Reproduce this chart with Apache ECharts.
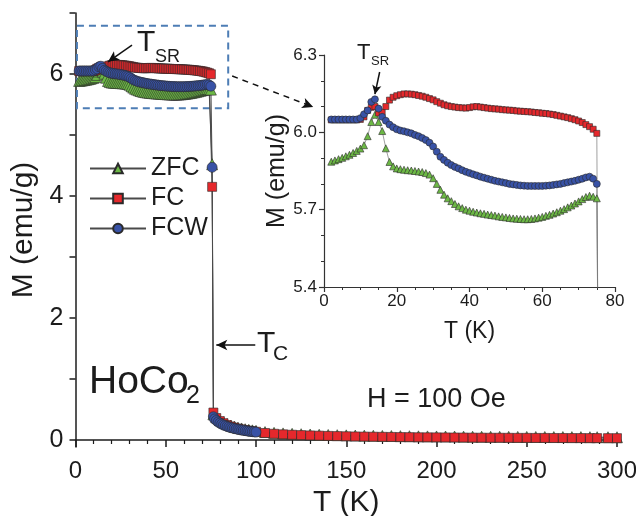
<!DOCTYPE html>
<html>
<head>
<meta charset="utf-8">
<title>HoCo2 magnetization</title>
<script src="https://cdn.jsdelivr.net/npm/echarts@6/dist/echarts.min.js"></script>
<style>
  html, body { margin: 0; padding: 0; background: #fff; }
  #chart { width: 636px; height: 516px; }
</style>
</head>
<body>
<div id="chart"></div>
<script>
// Temperatures (K) of the low-temperature sweep, 2 K to 75 K
const tLow = [
  2, 3, 4, 5, 6, 7, 8, 9, 10, 11,
  12, 13, 14, 15, 16, 17, 18, 19, 20, 21,
  22, 23, 24, 25, 26, 27, 28, 29, 30, 31,
  32, 33, 34, 35, 36, 37, 38, 39, 40, 41,
  42, 43, 44, 45, 46, 47, 48, 49, 50, 51,
  52, 53, 54, 55, 56, 57, 58, 59, 60, 61,
  62, 63, 64, 65, 66, 67, 68, 69, 70, 71,
  72, 73, 74, 75
];
// Magnetization M (emu/g) below Tc
const zfcLow = [
  5.886, 5.891, 5.896, 5.901, 5.907, 5.913, 5.920, 5.928, 5.937, 5.950,
  5.985, 6.040, 6.068, 6.040, 6.005, 5.938, 5.885, 5.868, 5.860, 5.857,
  5.855, 5.853, 5.852, 5.850, 5.848, 5.846, 5.842, 5.836, 5.822, 5.800,
  5.777, 5.758, 5.744, 5.733, 5.722, 5.713, 5.706, 5.700, 5.696, 5.692,
  5.689, 5.686, 5.684, 5.681, 5.679, 5.677, 5.674, 5.672, 5.670, 5.668,
  5.666, 5.665, 5.664, 5.663, 5.663, 5.664, 5.666, 5.669, 5.672, 5.676,
  5.680, 5.685, 5.690, 5.696, 5.702, 5.709, 5.716, 5.724, 5.732, 5.741,
  5.749, 5.754, 5.750, 5.744
];
const fcLow = [
  6.048, 6.048, 6.048, 6.048, 6.048, 6.048, 6.048, 6.048, 6.050, 6.060,
  6.085, 6.097, 6.100, 6.075, 6.078, 6.100, 6.125, 6.136, 6.142, 6.146,
  6.149, 6.149, 6.148, 6.146, 6.143, 6.140, 6.136, 6.131, 6.126, 6.119,
  6.113, 6.107, 6.103, 6.100, 6.098, 6.096, 6.095, 6.094, 6.096, 6.099,
  6.100, 6.098, 6.096, 6.094, 6.092, 6.091, 6.090, 6.088, 6.087, 6.086,
  6.085, 6.083, 6.082, 6.081, 6.080, 6.079, 6.077, 6.076, 6.074, 6.073,
  6.071, 6.069, 6.066, 6.063, 6.060, 6.057, 6.053, 6.049, 6.044, 6.038,
  6.030, 6.022, 6.012, 5.996
];
const fcwLow = [
  6.050, 6.050, 6.050, 6.050, 6.050, 6.050, 6.050, 6.050, 6.055, 6.070,
  6.085, 6.118, 6.128, 6.092, 6.060, 6.045, 6.030, 6.020, 6.012, 6.007,
  6.004, 6.000, 5.996, 5.990, 5.985, 5.978, 5.970, 5.960, 5.945, 5.925,
  5.905, 5.893, 5.882, 5.873, 5.866, 5.860, 5.853, 5.847, 5.842, 5.837,
  5.833, 5.828, 5.824, 5.820, 5.816, 5.812, 5.809, 5.806, 5.803, 5.800,
  5.798, 5.796, 5.794, 5.793, 5.792, 5.792, 5.792, 5.792, 5.792, 5.793,
  5.794, 5.796, 5.798, 5.800, 5.803, 5.806, 5.809, 5.812, 5.816, 5.820,
  5.825, 5.828, 5.820, 5.800
];

// Points across the Curie transition
const tDrop = [75.7, 76.4];
const zfcDrop = [4.52, 0.42];
const fcDrop = [4.15, 0.45];
const fcwDrop = [4.47, 0.38];

// FCW warming run above Tc (ends at 100 K)
const tFcwTail = [
  77, 78, 79, 80, 81, 82, 83, 84, 85, 86, 87, 88,
  89, 90, 91, 92, 93, 94, 95, 96, 97, 98, 99, 100
];
const fcwTail = [
  0.345, 0.318, 0.295, 0.276, 0.260, 0.246, 0.234, 0.223, 0.213, 0.204, 0.196, 0.189,
  0.182, 0.176, 0.170, 0.164, 0.159, 0.154, 0.149, 0.145, 0.141, 0.137, 0.133, 0.129
];

// ZFC / FC runs above Tc, up to 300 K
const tTail = [
  78, 80, 82, 84, 86, 88, 90, 92, 94, 96, 98, 100,
  105, 110, 115, 120, 125, 130, 135, 140, 145, 150,
  155, 160, 165, 170, 175, 180, 185, 190, 195, 200,
  205, 210, 215, 220, 225, 230, 235, 240, 245, 250,
  255, 260, 265, 270, 275, 280, 285, 289, 295, 300
];
const fcTail = [
  0.360, 0.310, 0.275, 0.245, 0.222, 0.203, 0.187, 0.174, 0.162, 0.152, 0.143, 0.135,
  0.115, 0.102, 0.093, 0.086, 0.080, 0.075, 0.071, 0.067, 0.064, 0.061,
  0.058, 0.056, 0.054, 0.052, 0.050, 0.048, 0.047, 0.045, 0.044, 0.043,
  0.042, 0.041, 0.040, 0.039, 0.038, 0.037, 0.037, 0.036, 0.035, 0.035,
  0.034, 0.034, 0.033, 0.033, 0.032, 0.032, 0.031, 0.031, 0.030, 0.030
];
const zfcTail = [
  0.375, 0.325, 0.290, 0.260, 0.237, 0.218, 0.202, 0.189, 0.177, 0.167, 0.158, 0.150,
  0.130, 0.117, 0.108, 0.101, 0.095, 0.090, 0.086, 0.082, 0.079, 0.076,
  0.073, 0.071, 0.069, 0.067, 0.065, 0.063, 0.062, 0.060, 0.059, 0.058,
  0.057, 0.056, 0.055, 0.054, 0.053, 0.052, 0.052, 0.051, 0.050, 0.050,
  0.049, 0.049, 0.048, 0.048, 0.047, 0.047, 0.046, 0.046, 0.045, 0.045
];

// Axis tick labels
const mainXTicks = [0, 50, 100, 150, 200, 250, 300];
const mainYTickMarks = [0, 1, 2, 3, 4, 5, 6, 7];
const mainYLabels = [0, 2, 4, 6];
const insetYLabels = [5.4, 5.7, 6.0, 6.3];

const FONT = "'Liberation Sans', Arial, Helvetica, sans-serif";
const INK = '#1c1c1c';
const COLORS = { ZFC: '#6cb845', FC: '#e5282c', FCW: '#3852a6' };
const SYMBOLS = { ZFC: 'triangle', FC: 'rect', FCW: 'circle' };

const zip = (xs, ys) => xs.map((x, i) => [x, ys[i]]);
const zfcAll = zip(tLow, zfcLow).concat(zip(tDrop, zfcDrop), zip(tTail, zfcTail));
const fcAll = zip(tLow, fcLow).concat(zip(tDrop, fcDrop), zip(tTail, fcTail));
const fcwAll = zip(tLow, fcwLow).concat(zip(tDrop, fcwDrop), zip(tFcwTail, fcwTail));

function curve(name, data, grid, size, lineColor, lineWidth, extra) {
  return Object.assign({
    type: 'line',
    name: name,
    xAxisIndex: grid,
    yAxisIndex: grid,
    data: data,
    clip: true,
    symbol: SYMBOLS[name],
    symbolSize: size,
    showAllSymbol: true,
    silent: true,
    animation: false,
    lineStyle: { color: lineColor, width: lineWidth },
    itemStyle: { color: COLORS[name], borderColor: '#2a2a2a', borderWidth: 0.6 },
    emphasis: { disabled: true }
  }, extra || {});
}

const arrowLine = (from, to, dashed) => [
  { coord: from, lineStyle: { color: '#111', width: 1.5, type: dashed ? [6, 5] : 'solid' } },
  { coord: to }
];

const mainMarks = {
  markArea: {
    silent: true,
    itemStyle: { color: 'rgba(0,0,0,0)', borderColor: '#4d7db5', borderWidth: 2, borderType: [7, 5] },
    label: { show: false },
    data: [[{ coord: [0.8, 6.79] }, { coord: [84.6, 5.44] }]]
  },
  markLine: {
    silent: true,
    symbol: ['none', 'arrow'],
    symbolSize: [8, 11],
    label: { show: false },
    animation: false,
    data: [
      arrowLine([31.3, 6.475], [18.0, 6.2], false),
      arrowLine([99.6, 1.557], [78.0, 1.557], false),
      arrowLine([86.8, 5.967], [131.7, 5.459], true)
    ]
  }
};

const insetMarks = {
  markLine: {
    silent: true,
    symbol: ['none', 'arrow'],
    symbolSize: [7, 9],
    label: { show: false },
    animation: false,
    data: [arrowLine([15.3, 6.234], [14.0, 6.148], false)]
  }
};

const axisLineMain = { lineStyle: { color: INK, width: 1.5 } };
const axisLineInset = { lineStyle: { color: '#333', width: 1.2 } };

const option = {
  animation: false,
  backgroundColor: '#ffffff',
  textStyle: { fontFamily: FONT, color: INK },
  grid: [
    { left: 75.5, right: 19, top: 13, bottom: 69, containLabel: false, outerBoundsMode: 'none' },
    { left: 324, right: 21, top: 55, bottom: 229, containLabel: false, outerBoundsMode: 'none' }
  ],
  legend: {
    data: ['ZFC', 'FC', 'FCW'],
    orient: 'vertical',
    left: 84,
    top: 150,
    itemWidth: 56,
    itemHeight: 12,
    itemGap: 3,
    selectedMode: false,
    textStyle: { fontFamily: FONT, fontSize: 25, color: INK, lineHeight: 27 }
  },
  xAxis: [
    {
      type: 'value', gridIndex: 0, min: 0, max: 300, interval: 50,
      axisLine: axisLineMain,
      axisTick: { length: 7, lineStyle: { color: INK, width: 1.5 } },
      minorTick: { show: true, splitNumber: 5, length: 4, lineStyle: { color: INK, width: 1.2 } },
      splitLine: { show: false },
      axisLabel: { fontSize: 24, color: INK, margin: 12, fontFamily: FONT,
        formatter: v => (mainXTicks.indexOf(v) >= 0 ? String(v) : '') },
      name: 'T (K)', nameLocation: 'middle', nameGap: 37,
      nameTextStyle: { fontSize: 30, color: INK, fontFamily: FONT }
    },
    {
      type: 'value', gridIndex: 1, min: 0, max: 80, interval: 20,
      axisLine: axisLineInset,
      axisTick: { length: 5, lineStyle: { color: '#333', width: 1.2 } },
      minorTick: { show: true, splitNumber: 4, length: 3, lineStyle: { color: '#333', width: 1 } },
      splitLine: { show: false },
      axisLabel: { fontSize: 17, color: INK, margin: 6, fontFamily: FONT },
      name: 'T (K)', nameLocation: 'middle', nameGap: 33,
      nameTextStyle: { fontSize: 23, color: INK, fontFamily: FONT }
    }
  ],
  yAxis: [
    {
      type: 'value', gridIndex: 0, min: -0.115, max: 7,
      axisLine: axisLineMain,
      axisTick: { length: 6, customValues: mainYTickMarks, lineStyle: { color: INK, width: 1.5 } },
      splitLine: { show: false },
      axisLabel: { fontSize: 25, color: INK, margin: 12, fontFamily: FONT, customValues: mainYLabels },
      name: 'M (emu/g)', nameLocation: 'middle', nameGap: 31,
      nameTextStyle: { fontSize: 30, color: INK, fontFamily: FONT }
    },
    {
      type: 'value', gridIndex: 1, min: 5.4, max: 6.3, interval: 0.3,
      axisLine: axisLineInset,
      axisTick: { length: 5, lineStyle: { color: '#333', width: 1.2 } },
      minorTick: { show: true, splitNumber: 3, length: 3, lineStyle: { color: '#333', width: 1 } },
      splitLine: { show: false },
      axisLabel: { fontSize: 17, color: INK, margin: 7, fontFamily: FONT, customValues: insetYLabels,
        formatter: v => Number(v).toFixed(1) },
      name: 'M (emu/g)', nameLocation: 'middle', nameGap: 34,
      nameTextStyle: { fontSize: 25, color: INK, fontFamily: FONT }
    }
  ],
  series: [
    curve('ZFC', zfcAll, 0, 11, '#4a4a4a', 1),
    curve('FC', fcAll, 0, 9, '#4a4a4a', 1),
    curve('FCW', fcwAll, 0, 10, '#4a4a4a', 1, mainMarks),
    curve('ZFC', zfcAll, 1, 7, '#777', 0.7),
    curve('FC', fcAll, 1, 6, '#777', 0.7),
    curve('FCW', fcwAll, 1, 7, '#777', 0.7, insetMarks)
  ],
  graphic: [
    // T_SR near the spin-reorientation peak (main panel)
    { type: 'text', x: 137, y: 43, style: { text: 'T', fontFamily: FONT, fontSize: 30, fill: INK, verticalAlign: 'middle' } },
    { type: 'text', x: 155, y: 57, style: { text: 'SR', fontFamily: FONT, fontSize: 18, fill: INK, verticalAlign: 'middle' } },
    // T_SR in the inset
    { type: 'text', x: 357, y: 53, style: { text: 'T', fontFamily: FONT, fontSize: 22, fill: INK, verticalAlign: 'middle' } },
    { type: 'text', x: 371, y: 61, style: { text: 'SR', fontFamily: FONT, fontSize: 13, fill: INK, verticalAlign: 'middle' } },
    // T_C
    { type: 'text', x: 257, y: 344, style: { text: 'T', fontFamily: FONT, fontSize: 30, fill: INK, verticalAlign: 'middle' } },
    { type: 'text', x: 273, y: 354, style: { text: 'C', fontFamily: FONT, fontSize: 21, fill: INK, verticalAlign: 'middle' } },
    // Compound name
    { type: 'text', x: 89, y: 382.5, style: { text: 'HoCo', fontFamily: FONT, fontSize: 39, fill: INK, verticalAlign: 'middle' } },
    { type: 'text', x: 186, y: 396, style: { text: '2', fontFamily: FONT, fontSize: 25, fill: INK, verticalAlign: 'middle' } },
    // Applied field
    { type: 'text', x: 367, y: 399.5, style: { text: 'H = 100 Oe', fontFamily: FONT, fontSize: 27, fill: INK, verticalAlign: 'middle' } }
  ]
};

const chart = echarts.init(document.getElementById('chart'), null, { renderer: 'canvas' });
chart.setOption(option);
</script>
</body>
</html>
